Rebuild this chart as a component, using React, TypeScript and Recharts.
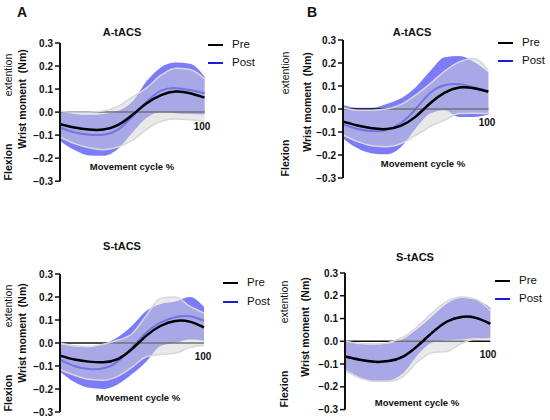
import React from "react";
import {
  ComposedChart,
  Area,
  Line,
  XAxis,
  YAxis,
  ReferenceLine,
} from "recharts";

// movement cycle, percent
const cycle = [0, 10, 20, 30, 40, 50, 60, 70, 80, 90, 100];
const yTicks = [-0.3, -0.2, -0.1, 0, 0.1, 0.2, 0.3];

// panel A (A-tACS)
const aPreMean = [-0.053, -0.067, -0.076, -0.076, -0.057, -0.013, 0.038, 0.074, 0.089, 0.082, 0.063];
const aPreLow = [-0.108, -0.137, -0.155, -0.163, -0.152, -0.123, -0.075, -0.04, -0.03, -0.033, -0.04];
const aPreHigh = [0.003, 0.0, 0.0, 0.005, 0.025, 0.065, 0.105, 0.16, 0.19, 0.185, 0.145];
const aPostMean = [-0.067, -0.088, -0.098, -0.098, -0.076, -0.02, 0.045, 0.093, 0.104, 0.096, 0.082];
const aPostLow = [-0.125, -0.165, -0.188, -0.19, -0.16, -0.09, -0.025, 0.0, -0.005, -0.008, -0.01];
const aPostHigh = [0.0, -0.008, -0.012, -0.008, 0.005, 0.045, 0.135, 0.195, 0.215, 0.21, 0.155];

// panel B (A-tACS)
const bPreMean = [-0.055, -0.072, -0.084, -0.087, -0.072, -0.033, 0.025, 0.071, 0.093, 0.09, 0.075];
const bPreLow = [-0.113, -0.142, -0.16, -0.164, -0.15, -0.115, -0.077, -0.048, -0.02, -0.019, -0.02];
const bPreHigh = [0.005, -0.005, -0.005, 0.0, 0.02, 0.06, 0.11, 0.165, 0.205, 0.22, 0.168];
const bPostMean = [-0.067, -0.087, -0.096, -0.091, -0.06, 0.0, 0.07, 0.103, 0.108, 0.095, 0.078];
const bPostLow = [-0.128, -0.171, -0.193, -0.197, -0.165, -0.085, -0.02, -0.005, -0.035, -0.035, -0.025];
const bPostHigh = [0.017, 0.005, 0.005, 0.022, 0.047, 0.095, 0.165, 0.225, 0.23, 0.205, 0.16];

// panel C (S-tACS)
const cPreMean = [-0.055, -0.072, -0.081, -0.084, -0.07, -0.026, 0.032, 0.075, 0.096, 0.093, 0.068];
const cPreLow = [-0.115, -0.14, -0.158, -0.162, -0.145, -0.105, -0.06, -0.05, -0.045, -0.02, -0.01];
const cPreHigh = [0.0, -0.012, -0.015, -0.005, 0.012, 0.04, 0.12, 0.195, 0.2, 0.16, 0.13];
const cPostMean = [-0.072, -0.1, -0.113, -0.11, -0.081, -0.019, 0.046, 0.09, 0.112, 0.116, 0.097];
const cPostLow = [-0.125, -0.17, -0.195, -0.2, -0.18, -0.135, -0.08, -0.012, 0.0, 0.015, 0.01];
const cPostHigh = [-0.005, -0.015, -0.018, -0.005, 0.025, 0.075, 0.14, 0.17, 0.18, 0.2, 0.157];

// panel D (S-tACS)
const dPreMean = [-0.067, -0.081, -0.09, -0.087, -0.067, -0.02, 0.038, 0.086, 0.107, 0.103, 0.077];
const dPreLow = [-0.125, -0.16, -0.175, -0.175, -0.155, -0.09, -0.05, -0.045, -0.01, 0.01, 0.012];
const dPreHigh = [0.003, -0.01, -0.012, -0.005, 0.018, 0.065, 0.125, 0.175, 0.195, 0.185, 0.135];
const dPostMean = [-0.066, -0.08, -0.089, -0.086, -0.066, -0.019, 0.039, 0.087, 0.106, 0.102, 0.078];
const dPostLow = [-0.13, -0.16, -0.175, -0.172, -0.14, -0.06, -0.005, 0.005, 0.008, 0.015, 0.015];
const dPostHigh = [0.0, -0.012, -0.015, -0.01, 0.01, 0.055, 0.11, 0.165, 0.19, 0.182, 0.146];

const FONT = "'Liberation Sans', Arial, Helvetica, sans-serif";
const BLUE_BAND = "#7c7cfa";
const GRAY_BAND = "#d4d4d4";
// drawn under the grey pre band, so it ends up muted like the original
const POST_LINE = "#1414ea";

function buildRows(
  preMean: number[], preLow: number[], preHigh: number[],
  postMean: number[], postLow: number[], postHigh: number[]
) {
  return cycle.map((x, i) => ({
    x,
    pre: preMean[i],
    preBand: [preLow[i], preHigh[i]],
    post: postMean[i],
    postBand: [postLow[i], postHigh[i]],
  }));
}

const panels = [
  {
    id: "A", letter: "A", letterPos: [22, 12], title: "A-tACS", titlePos: [122, 32],
    plot: { left: 60, top: 43.3, w: 144.5, h: 138.2 },
    rows: buildRows(aPreMean, aPreLow, aPreHigh, aPostMean, aPostLow, aPostHigh),
    legend: { x: 208, y1: 45, y2: 63 },
    hundred: [202, 127], cycleLabel: [132, 167],
    ext: [8, 75], wrist: [22, 99], flex: [8, 162],
  },
  {
    id: "B", letter: "B", letterPos: [312, 12], title: "A-tACS", titlePos: [412, 32],
    plot: { left: 343, top: 39.7, w: 145.3, h: 138 },
    rows: buildRows(bPreMean, bPreLow, bPreHigh, bPostMean, bPostLow, bPostHigh),
    legend: { x: 498, y1: 43, y2: 61 },
    hundred: [487, 123], cycleLabel: [423, 164],
    ext: [285, 73], wrist: [307, 102], flex: [285, 158],
  },
  {
    id: "C", letter: "", letterPos: [0, 0], title: "S-tACS", titlePos: [122, 246],
    plot: { left: 60, top: 274, w: 144, h: 138 },
    rows: buildRows(cPreMean, cPreLow, cPreHigh, cPostMean, cPostLow, cPostHigh),
    legend: { x: 223, y1: 283, y2: 302 },
    hundred: [203, 357], cycleLabel: [138, 398],
    ext: [8, 306], wrist: [22, 333], flex: [8, 393],
  },
  {
    id: "D", letter: "", letterPos: [0, 0], title: "S-tACS", titlePos: [415, 257],
    plot: { left: 345, top: 273, w: 145.3, h: 136.6 },
    rows: buildRows(dPreMean, dPreLow, dPreHigh, dPostMean, dPostLow, dPostHigh),
    legend: { x: 495, y1: 281, y2: 299 },
    hundred: [488, 355], cycleLabel: [417, 403],
    ext: [284, 302], wrist: [305, 327], flex: [284, 389],
  },
];

const fmtTick = (v: number) => v.toFixed(1).replace("-", "\u2212");

function Label({
  pos, text, size, bold, rotate,
}: { pos: number[]; text: string; size: number; bold?: boolean; rotate?: boolean }) {
  return (
    <div
      style={{
        position: "absolute",
        left: pos[0],
        top: pos[1],
        transform: `translate(-50%, -50%)${rotate ? " rotate(-90deg)" : ""}`,
        fontSize: size,
        fontWeight: bold ? 700 : 400,
        whiteSpace: "pre",
        lineHeight: 1,
        color: "#111",
      }}
    >
      {text}
    </div>
  );
}

function LegendItem({ x, y, color, text }: { x: number; y: number; color: string; text: string }) {
  return (
    <>
      <div
        style={{
          position: "absolute",
          left: x,
          top: y - 1.25,
          width: 15,
          height: 2.5,
          background: color,
        }}
      />
      <div
        style={{
          position: "absolute",
          left: x + 24,
          top: y,
          transform: "translateY(-50%)",
          fontSize: 11.5,
          lineHeight: 1,
          color: "#111",
        }}
      >
        {text}
      </div>
    </>
  );
}

type PanelCfg = (typeof panels)[number];

function Panel({ p }: { p: PanelCfg }) {
  const axisW = 50;
  const pad = 10;
  return (
    <>
      <div
        style={{
          position: "absolute",
          left: p.plot.left - axisW,
          top: p.plot.top - pad,
        }}
      >
        <ComposedChart
          width={axisW + p.plot.w + pad}
          height={p.plot.h + pad * 2}
          data={p.rows}
          margin={{ top: pad, right: pad, bottom: pad, left: 0 }}
        >
          <XAxis type="number" dataKey="x" domain={[0, 100]} hide />
          <YAxis
            type="number"
            domain={[-0.3, 0.3]}
            ticks={yTicks}
            width={axisW}
            tickFormatter={fmtTick}
            axisLine={{ stroke: "#111", strokeWidth: 2 }}
            tickLine={{ stroke: "#111", strokeWidth: 1.5 }}
            tickSize={5}
            tickMargin={2}
            tick={{ fontSize: 10, fontWeight: 700, fill: "#111", fontFamily: FONT }}
            allowDataOverflow
          />
          <Area
            dataKey="postBand"
            type="monotone"
            fill={BLUE_BAND}
            fillOpacity={1}
            stroke="none"
            isAnimationActive={false}
            zIndex={100}
          />
          <Line
            dataKey="post"
            type="natural"
            stroke={POST_LINE}
            strokeWidth={2}
            dot={false}
            isAnimationActive={false}
            zIndex={101}
          />
          <ReferenceLine y={0} stroke="#111" strokeWidth={1.5} zIndex={102} />
          <Area
            dataKey="preBand"
            type="monotone"
            fill={GRAY_BAND}
            fillOpacity={0.5}
            stroke="#d8d8d8"
            strokeWidth={1.5}
            isAnimationActive={false}
            zIndex={103}
          />
          <Line
            dataKey="pre"
            type="natural"
            stroke="#000"
            strokeWidth={2.5}
            dot={false}
            isAnimationActive={false}
            zIndex={104}
          />
        </ComposedChart>
      </div>
      {p.letter && <Label pos={p.letterPos} text={p.letter} size={14} bold />}
      <Label pos={p.titlePos} text={p.title} size={11} bold />
      <Label pos={p.hundred} text="100" size={10} bold />
      <Label pos={p.cycleLabel} text="Movement cycle %" size={9.5} bold />
      <Label pos={p.ext} text="extention" size={10.5} rotate />
      <Label pos={p.wrist} text={"Wrist moment  (Nm)"} size={10.5} bold rotate />
      <Label pos={p.flex} text="Flexion" size={10.5} bold rotate />
      <LegendItem x={p.legend.x} y={p.legend.y1} color="#000" text="Pre" />
      <LegendItem x={p.legend.x} y={p.legend.y2} color="#1a1ae0" text="Post" />
    </>
  );
}

export default function App() {
  return (
    <div
      style={{
        position: "absolute",
        left: 0,
        top: 0,
        width: 550,
        height: 420,
        background: "#fff",
        fontFamily: FONT,
        overflow: "hidden",
      }}
    >
      {panels.map((p) => (
        <Panel key={p.id} p={p} />
      ))}
    </div>
  );
}
